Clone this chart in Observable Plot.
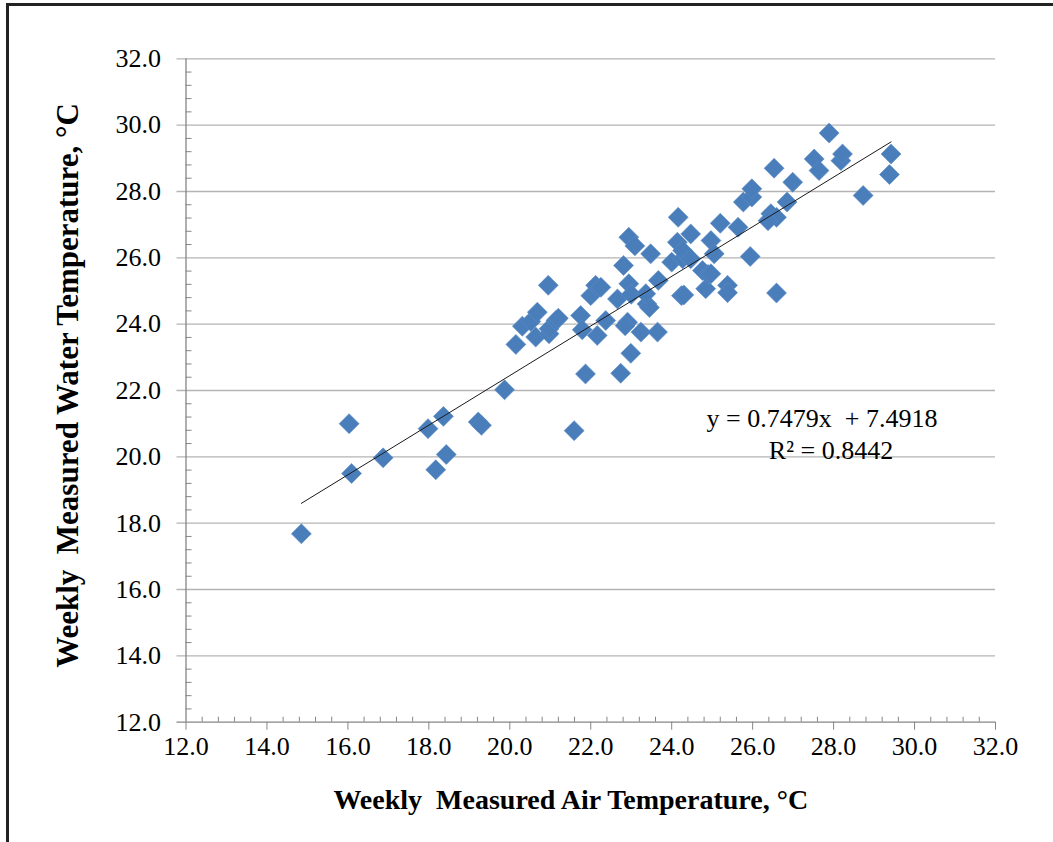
<!DOCTYPE html>
<html>
<head>
<meta charset="utf-8">
<script src="https://cdn.jsdelivr.net/npm/d3@7"></script>
<script src="https://cdn.jsdelivr.net/npm/@observablehq/plot@0.6"></script>
<style>
  html, body { margin: 0; padding: 0; background: #fff; }
  #wrap { position: relative; width: 1053px; height: 842px; overflow: hidden; background: #fff; }
  #frame { position: absolute; left: 6px; top: 3px; width: 1200px; height: 1000px;
           border-left: 3px solid #222; border-top: 3px solid #222; box-sizing: border-box; }
  #chart { position: absolute; left: 0; top: 0; }
</style>
</head>
<body>
<div id="wrap"><div id="frame"></div><div id="chart"></div></div>
<script>
// Weekly measured air temperature (°C)
const airTemp = [
  14.85, 16.03, 16.09, 16.87, 17.98, 18.36, 18.17, 18.43, 19.22, 19.30,
  19.87, 21.59, 21.87, 22.74,
  20.15, 20.31, 20.52, 20.68, 20.64, 20.97, 20.97, 21.14, 21.20, 20.95,
  21.75, 21.79, 22.00, 22.12, 22.25, 22.16, 22.37, 22.66, 22.81, 22.91,
  22.85, 22.94, 23.00, 22.99, 22.94, 23.09, 23.24, 23.65, 23.39, 23.45,
  23.36, 23.48, 23.67, 24.00, 24.16, 24.14, 24.24, 24.30, 24.27, 24.27,
  24.47, 24.47, 24.76, 24.84, 24.90, 24.97, 24.97, 25.05, 25.20, 25.38,
  25.38, 25.64, 25.94, 25.77, 25.98, 25.98, 26.45, 26.59, 26.38, 26.53,
  26.59, 26.85, 26.99, 27.52, 27.64, 27.89, 28.18, 28.22, 28.73, 29.38,
  29.42
];
// Weekly measured water temperature (°C)
const waterTemp = [
  17.68, 21.00, 19.50, 19.97, 20.85, 21.22, 19.61, 20.07, 21.05, 20.95,
  22.02, 20.79, 22.50, 22.52,
  23.39, 23.94, 24.08, 24.36, 23.61, 23.71, 23.86, 24.11, 24.18, 25.17,
  24.26, 23.83, 24.86, 25.17, 25.11, 23.66, 24.11, 24.76, 25.77, 24.06,
  23.95, 25.22, 24.90, 23.12, 26.62, 26.36, 23.76, 23.76, 24.61, 24.50,
  24.92, 26.12, 25.32, 25.87, 27.22, 26.47, 24.86, 24.88, 25.97, 26.22,
  26.72, 25.97, 25.62, 25.07, 25.50, 25.52, 26.52, 26.12, 27.04, 25.17,
  24.95, 26.92, 26.04, 27.68, 27.83, 28.08, 27.33, 27.22, 27.12, 28.70,
  24.94, 27.68, 28.28, 28.98, 28.63, 29.76, 28.93, 29.13, 27.88, 28.51,
  29.13
];
// Linear trendline: y = slope * x + intercept
const slope = 0.7479;
const intercept = 7.4918;
const equationLines = ["y = 0.7479x\u00a0 + 7.4918", "R² = 0.8442"];

const xTicks = [12, 14, 16, 18, 20, 22, 24, 26, 28, 30, 32];
const yTicks = [12, 14, 16, 18, 20, 22, 24, 26, 28, 30, 32];
const xTitle = "Weekly\u00a0 Measured Air Temperature, °C";
const yTitle = "Weekly\u00a0 Measured Water Temperature, °C";

const isMajor = v => Math.abs(v / 2 - Math.round(v / 2)) < 0.01;
const xMinor = d3.range(0, 51).map(k => 12 + 0.4 * k).filter(v => !isMajor(v));
const yMinor = d3.range(0, 51).map(k => 12 + 0.4 * k).filter(v => !isMajor(v));

const points = airTemp.map((x, i) => ({x, y: waterTemp[i]}));
const [xmin, xmax] = d3.extent(airTemp);
const trend = [xmin, xmax].map(x => ({x, y: slope * x + intercept}));

const W = 1053, H = 842;
const mL = 185.5, mR = 58, mT = 58.3, mB = 120.3;
const plotW = W - mL - mR, plotH = H - mT - mB;
const axisGray = "#868686", gridGray = "#b4b4b4";
const fmt = d => d.toFixed(1);
const serif = "'Liberation Serif', 'Times New Roman', serif";

const chart = Plot.plot({
  width: W, height: H,
  marginLeft: mL, marginRight: mR, marginTop: mT, marginBottom: mB,
  x: {domain: [12, 32], axis: null},
  y: {domain: [12, 32], axis: null},
  style: {fontFamily: serif, color: "#000", background: "transparent", overflow: "visible"},
  marks: [
    Plot.ruleY(yTicks.filter(v => v > 12), {stroke: gridGray, strokeWidth: 1.3, insetLeft: -9}),
    Plot.ruleY(yMinor, {stroke: axisGray, insetRight: plotW - 6}),
    Plot.ruleX(xTicks, {stroke: axisGray, insetTop: plotH, insetBottom: -8}),
    Plot.ruleX(xMinor, {stroke: axisGray, insetTop: plotH - 5}),
    Plot.ruleX([12], {stroke: axisGray, strokeWidth: 1.3}),
    Plot.ruleY([12], {stroke: axisGray, strokeWidth: 1.3, insetLeft: -9}),
    Plot.dot(points, {x: "x", y: "y", symbol: "diamond2", r: 9, fill: "#4a7ebb", stroke: "#5a8cc6", strokeWidth: 0.6}),
    Plot.line(trend, {x: "x", y: "y", stroke: "#1a1a1a", strokeWidth: 1}),
    Plot.text(xTicks, {x: d => d, frameAnchor: "bottom", dy: 33, text: fmt, fill: "#000", fontFamily: serif, fontSize: 26}),
    Plot.text(yTicks, {y: d => d, frameAnchor: "left", textAnchor: "end", dx: -25, text: fmt, fill: "#000", fontFamily: serif, fontSize: 26}),
    Plot.text([equationLines[0]], {frameAnchor: "top-left", textAnchor: "middle", dx: 636, dy: 350, text: d => d, fill: "#000", fontFamily: serif, fontSize: 26}),
    Plot.text([equationLines[1]], {frameAnchor: "top-left", textAnchor: "middle", dx: 645, dy: 382, text: d => d, fill: "#000", fontFamily: serif, fontSize: 26}),
    Plot.text([xTitle], {frameAnchor: "bottom", textAnchor: "middle", dx: -20, dy: 87, text: d => d, fontWeight: "bold", fontFamily: serif, fontSize: 28, fill: "#000"}),
    Plot.text([yTitle], {frameAnchor: "left", textAnchor: "middle", dx: -118, dy: -5, rotate: -90, text: d => d, fontWeight: "bold", fontFamily: serif, fontSize: 31, fill: "#000"})
  ]
});
document.getElementById("chart").appendChild(chart);
</script>
</body>
</html>
